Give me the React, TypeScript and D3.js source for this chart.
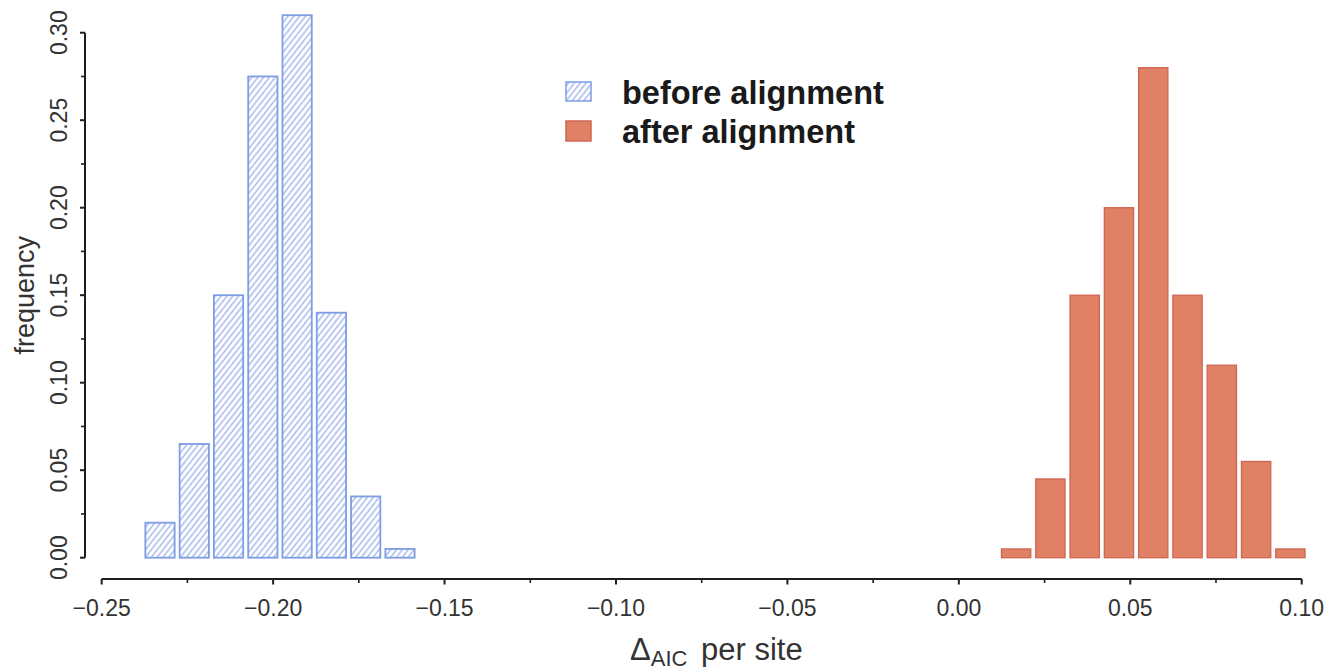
import React from 'react';
import * as d3 from 'd3';

// histogram bin centres (bin width 0.01) and frequencies
const beforeCentres = [-0.233, -0.223, -0.213, -0.203, -0.193, -0.183, -0.173, -0.163];
const beforeFreq = [0.02, 0.065, 0.15, 0.275, 0.31, 0.14, 0.035, 0.005];
const afterCentres = [0.0167, 0.0267, 0.0367, 0.0467, 0.0567, 0.0667, 0.0767, 0.0867, 0.0967];
const afterFreq = [0.005, 0.045, 0.15, 0.2, 0.28, 0.15, 0.11, 0.055, 0.005];
const binWidth = 0.01;

const xTicks = [-0.25, -0.2, -0.15, -0.1, -0.05, 0.0, 0.05, 0.1];
const yTicks = [0.0, 0.05, 0.1, 0.15, 0.2, 0.25, 0.3];
const legendLabels = ['before alignment', 'after alignment'];

const W = 1342, H = 670;
const FONT = '"Liberation Sans", Arial, Helvetica, sans-serif';
const BLUE = '#7f9de3';
const HATCH = '#9fb5ec';
const RED_FILL = '#e08064';
const RED_STROKE = '#cf6650';
const AXIS = '#1e1e1e';

const mids = (t: number[]) => t.slice(1).map((v, i) => (v + t[i]) / 2);

export default function App() {
  const x = d3.scaleLinear().domain([-0.25, 0.1]).range([101.7, 1301.7]);
  const y = d3.scaleLinear().domain([0, 0.3]).range([557.7, 32.7]);
  const gap = 2.5;
  const axisY = 579;
  const axisX = 85;

  const barRect = (c: number, f: number) => ({
    x: x(c - binWidth / 2) + gap,
    width: x(c + binWidth / 2) - x(c - binWidth / 2) - 2 * gap,
    y: y(f),
    height: y(0) - y(f),
  });

  return (
    <svg width={W} height={H} style={{ position: 'absolute', left: 0, top: 0, background: '#fff' }}
      fontFamily={FONT}>
      <defs>
        <pattern id="hatch" patternUnits="userSpaceOnUse" width="10" height="4.6"
          patternTransform="rotate(-52)">
          <rect width="10" height="4.6" fill="#fff" />
          <line x1="0" y1="2.3" x2="10" y2="2.3" stroke={HATCH} strokeWidth="1.4" />
        </pattern>
      </defs>
      <rect width={W} height={H} fill="#fff" />

      {/* before alignment bars */}
      {beforeCentres.map((c, i) => {
        const r = barRect(c, beforeFreq[i]);
        return <rect key={'b' + i} {...r} fill="url(#hatch)" stroke={BLUE} strokeWidth={1.8} />;
      })}
      {/* after alignment bars */}
      {afterCentres.map((c, i) => {
        const r = barRect(c, afterFreq[i]);
        return <rect key={'a' + i} {...r} fill={RED_FILL} stroke={RED_STROKE} strokeWidth={1.3} />;
      })}

      {/* x axis */}
      <g>
        <line x1={x(xTicks[0])} x2={x(xTicks[xTicks.length - 1])} y1={axisY} y2={axisY}
          stroke={AXIS} strokeWidth={2} />
        {xTicks.map((t) => (
          <g key={'xt' + t}>
            <line x1={x(t)} x2={x(t)} y1={axisY} y2={axisY + 5.5} stroke={AXIS} strokeWidth={2} />
            <text x={x(t)} y={616} textAnchor="middle" fontSize={23} fill="#333">
              {d3.format('.2f')(t).replace('-', '\u2212')}
            </text>
          </g>
        ))}
        {mids(xTicks).map((t) => (
          <line key={'xm' + t} x1={x(t)} x2={x(t)} y1={axisY} y2={axisY + 4} stroke={AXIS} strokeWidth={1.6} />
        ))}
        <text x={630} y={660} fontSize={31} fill="#333">
          {'\u0394'}
          <tspan fontSize={22} dy={6}>AIC</tspan>
          <tspan dy={-6} dx={5}> per site</tspan>
        </text>
      </g>

      {/* y axis */}
      <g>
        <line x1={axisX} x2={axisX} y1={y(0)} y2={y(0.3)} stroke={AXIS} strokeWidth={2} />
        {yTicks.map((t) => (
          <g key={'yt' + t}>
            <line x1={axisX - 5} x2={axisX} y1={y(t)} y2={y(t)} stroke={AXIS} strokeWidth={2} />
            <text transform={`translate(67,${y(t)}) rotate(-90)`} textAnchor="middle" fontSize={23} fill="#333">
              {d3.format('.2f')(t)}
            </text>
          </g>
        ))}
        {mids(yTicks).map((t) => (
          <line key={'ym' + t} x1={axisX - 4} x2={axisX} y1={y(t)} y2={y(t)} stroke={AXIS} strokeWidth={1.6} />
        ))}
        <text transform={`translate(34,${(y(0) + y(0.3)) / 2}) rotate(-90)`} textAnchor="middle"
          fontSize={27} fill="#333">frequency</text>
      </g>

      {/* legend */}
      <g>
        <rect x={566} y={82} width={25} height={19} fill="url(#hatch)" stroke={BLUE} strokeWidth={1.5} />
        <rect x={566} y={121} width={25} height={20} fill={RED_FILL} stroke={RED_STROKE} strokeWidth={1.5} />
        {legendLabels.map((l, i) => (
          <text key={l} x={622} y={104 + i * 39} fontSize={32.5} fontWeight="bold" fill="#1a1a1a">{l}</text>
        ))}
      </g>
    </svg>
  );
}
